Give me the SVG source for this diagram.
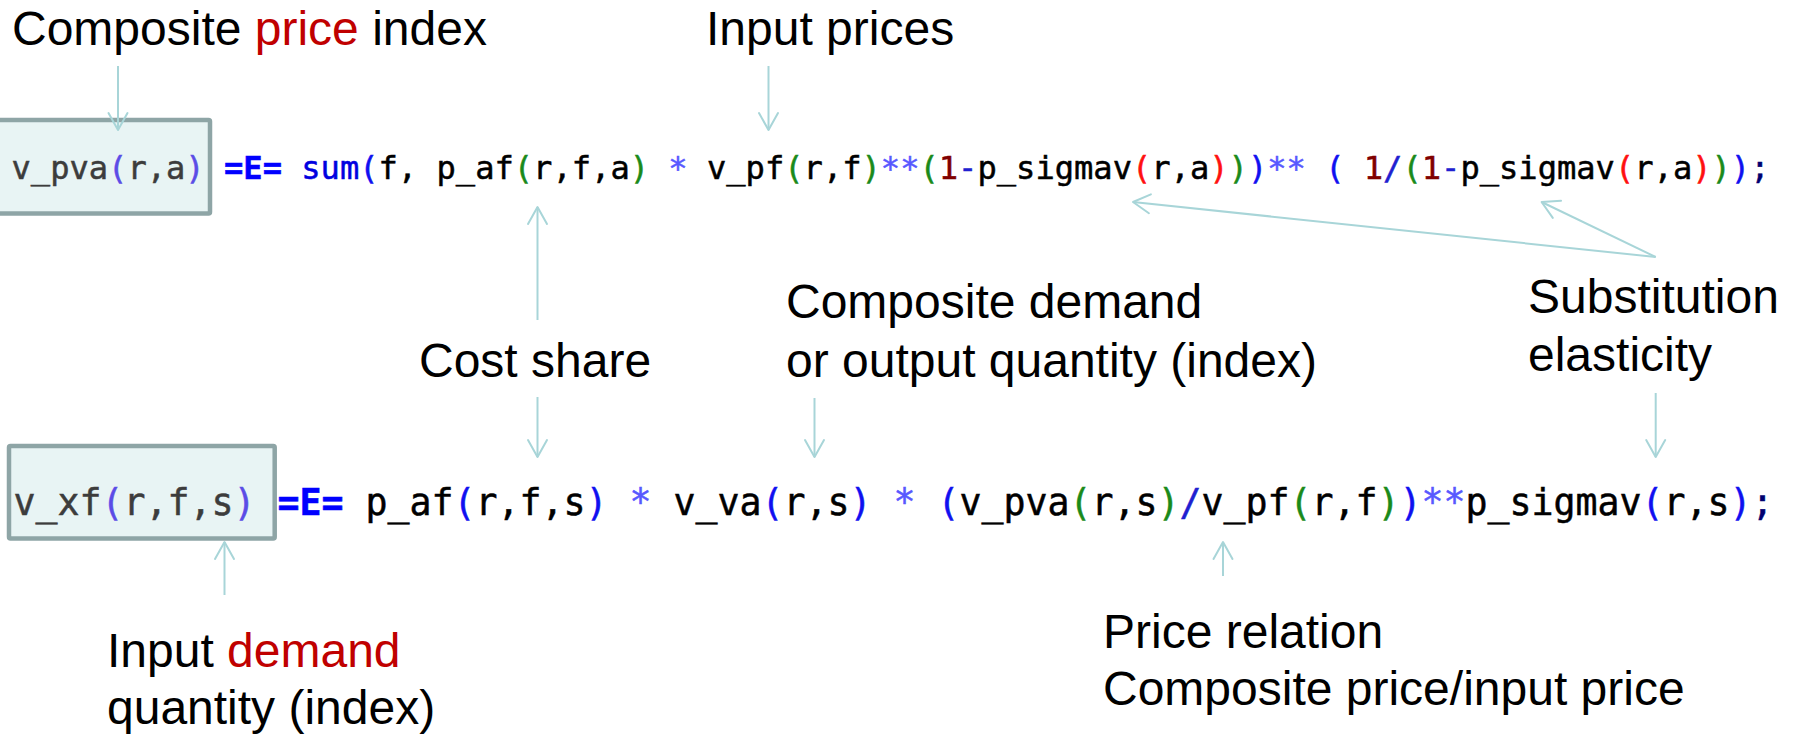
<svg xmlns="http://www.w3.org/2000/svg" width="1796" height="734" viewBox="0 0 1796 734">
<defs>
<style>
.lbl{font-family:"Liberation Sans",Arial,sans-serif;font-size:48px;fill:#000}
.red{fill:#c00000}
.code{font-family:"DejaVu Sans Mono","Liberation Mono",monospace;fill:#000;stroke:#000;stroke-width:0.5;white-space:pre}
.bid{fill:#3c3c3c;stroke:#3c3c3c}
.bp{fill:#5b4ce6;stroke:#5b4ce6}
.eq{fill:#0000ff;stroke:#0000ff;font-weight:bold}
.kw{fill:#0000e0;stroke:#0000e0}
.p1{fill:#1010f0;stroke:#1010f0}
.p2{fill:#1a8a1a;stroke:#1a8a1a}
.p3{fill:#ff1010;stroke:#ff1010}
.num{fill:#800000;stroke:#800000}
.op{fill:#5858ff;stroke:#5858ff}
.op2{fill:#2020d0;stroke:#2020d0}
.semi{fill:#000070;stroke:#000070}
.box{fill:#e8f4f4;stroke:#8ea5a6;stroke-width:4.5}
.arr{stroke:#a8d5d8;stroke-width:2;fill:none;marker-end:url(#ah)}
</style>
<marker id="ah" viewBox="-20 -12 24 24" markerWidth="24" markerHeight="24" refX="0" refY="0" orient="auto" markerUnits="userSpaceOnUse" overflow="visible">
<path d="M-17,-9.5 L0,0 L-17,9.5" fill="none" stroke="#a8d5d8" stroke-width="2" stroke-linecap="round" stroke-linejoin="round"/>
</marker>
</defs>
<rect width="1796" height="734" fill="#ffffff"/>

<g id="box-top">
<rect class="box" x="-10" y="120" width="220" height="93.5" rx="1.5"/>
</g>
<g id="box-bottom">
<rect class="box" x="9" y="446" width="265.7" height="92.5" rx="1.5"/>
</g>

<g id="equation-top">
<text class="code" x="11.5" y="179" font-size="32.1" xml:space="preserve" textLength="1758" lengthAdjust="spacing"><tspan class="bid">v_pva</tspan><tspan class="bp">(</tspan><tspan class="bid">r,a</tspan><tspan class="bp">)</tspan> <tspan class="eq">=E=</tspan> <tspan class="kw">sum</tspan><tspan class="p1">(</tspan>f, p_af<tspan class="p2">(</tspan>r,f,a<tspan class="p2">)</tspan> <tspan class="op">*</tspan> v_pf<tspan class="p2">(</tspan>r,f<tspan class="p2">)</tspan><tspan class="op">**</tspan><tspan class="p2">(</tspan><tspan class="num">1</tspan><tspan class="op2">-</tspan>p_sigmav<tspan class="p3">(</tspan>r,a<tspan class="p3">)</tspan><tspan class="p2">)</tspan><tspan class="p1">)</tspan><tspan class="op">**</tspan> <tspan class="p1">(</tspan> <tspan class="num">1</tspan><tspan class="op2">/</tspan><tspan class="p2">(</tspan><tspan class="num">1</tspan><tspan class="op2">-</tspan>p_sigmav<tspan class="p3">(</tspan>r,a<tspan class="p3">)</tspan><tspan class="p2">)</tspan><tspan class="p1">)</tspan><tspan class="semi">;</tspan></text>
</g>

<g id="equation-bottom">
<text class="code" x="13.5" y="515" font-size="36.55" xml:space="preserve" textLength="1760" lengthAdjust="spacing"><tspan class="bid">v_xf</tspan><tspan class="bp">(</tspan><tspan class="bid">r,f,s</tspan><tspan class="bp">)</tspan> <tspan class="eq">=E=</tspan> p_af<tspan class="p1">(</tspan>r,f,s<tspan class="p1">)</tspan> <tspan class="op">*</tspan> v_va<tspan class="p1">(</tspan>r,s<tspan class="p1">)</tspan> <tspan class="op">*</tspan> <tspan class="p1">(</tspan>v_pva<tspan class="p2">(</tspan>r,s<tspan class="p2">)</tspan><tspan class="op2">/</tspan>v_pf<tspan class="p2">(</tspan>r,f<tspan class="p2">)</tspan><tspan class="p1">)</tspan><tspan class="op">**</tspan>p_sigmav<tspan class="p1">(</tspan>r,s<tspan class="p1">)</tspan><tspan class="semi">;</tspan></text>
</g>

<g id="label-composite-price-index"><text class="lbl" x="12" y="45">Composite <tspan class="red">price</tspan> index</text></g>
<g id="label-input-prices"><text class="lbl" x="706" y="45">Input prices</text></g>
<g id="label-cost-share"><text class="lbl" x="419" y="377">Cost share</text></g>
<g id="label-composite-demand"><text class="lbl" x="786" y="318">Composite demand</text><text class="lbl" x="786" y="377">or output quantity (index)</text></g>
<g id="label-substitution"><text class="lbl" x="1528" y="313">Substitution</text><text class="lbl" x="1528" y="371">elasticity</text></g>
<g id="label-input-demand"><text class="lbl" x="107" y="667">Input <tspan class="red">demand</tspan></text><text class="lbl" x="107" y="724">quantity (index)</text></g>
<g id="label-price-relation"><text class="lbl" x="1103" y="648">Price relation</text><text class="lbl" x="1103" y="705">Composite price/input price</text></g>

<g id="connectors">
<line class="arr" x1="118" y1="66" x2="118" y2="130"/>
<line class="arr" x1="768.5" y1="66" x2="768.5" y2="130"/>
<line class="arr" x1="537.5" y1="320" x2="537.5" y2="207"/>
<line class="arr" x1="537.5" y1="397" x2="537.5" y2="457"/>
<line class="arr" x1="814.5" y1="398" x2="814.5" y2="457"/>
<line class="arr" x1="1655.7" y1="257" x2="1133" y2="202"/>
<line class="arr" x1="1655.7" y1="257" x2="1541.6" y2="202"/>
<line class="arr" x1="1655.7" y1="393" x2="1655.7" y2="457"/>
<line class="arr" x1="224.5" y1="595" x2="224.5" y2="542"/>
<line class="arr" x1="1223" y1="576" x2="1223" y2="542"/>
</g>
</svg>
